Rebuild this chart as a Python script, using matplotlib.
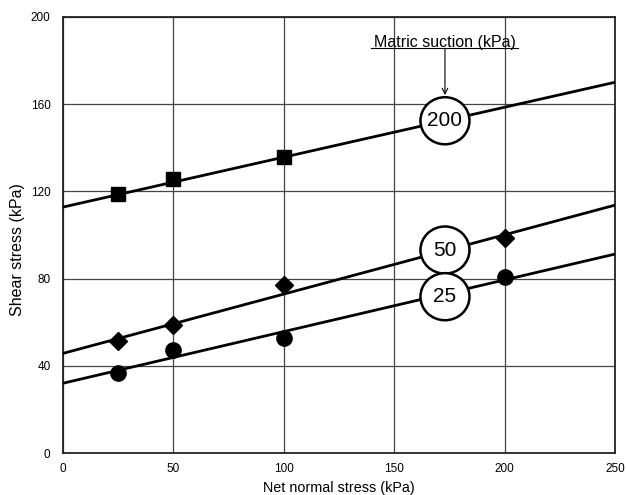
import matplotlib
matplotlib.use("Agg")
import matplotlib.pyplot as plt
import numpy as np
from matplotlib.patches import Ellipse

plt.rcParams['font.family'] = ['Liberation Sans', 'DejaVu Sans']

# Data
net_normal = [25, 50, 100, 200]
s200_x = [25, 50, 100]
s200_y = [118.8, 125.7, 135.8]
s50_y = [51.5, 58.7, 77.0, 98.6]
s25_y = [36.8, 47.2, 52.6, 80.6]

# fitted lines (intercept, slope)
fit200 = (112.8, 0.229)
fit50 = (45.7, 0.272)
fit25 = (32.0, 0.237)

label_x = 173
labels = ["200", "50", "25"]
label_y = [152.4, 93.1, 71.7]

xticks = [0, 50, 100, 150, 200, 250]
yticks = [0, 40, 80, 120, 160, 200]

fig = plt.figure(figsize=(6.26, 4.95), dpi=100)
ax = fig.add_axes([0.1006, 0.0848, 0.8818, 0.8809])
ax.set_xlim(0, 250)
ax.set_ylim(0, 200)
ax.set_xticks(xticks)
ax.set_yticks(yticks)
ax.tick_params(length=0, labelsize=8.5)
ax.tick_params(axis='y', pad=9)
ax.tick_params(axis='x', pad=7)
ax.grid(True, color='#444444', linewidth=0.9)
ax.set_axisbelow(True)
for s in ax.spines.values():
    s.set_linewidth(1.3)
    s.set_color('#222222')

xl = np.array([0, 250])
for (b, m) in (fit200, fit50, fit25):
    ax.plot(xl, b + m * xl, color='black', linewidth=2, zorder=3, clip_on=True)

ax.plot(s200_x, s200_y, 's', color='black', markersize=10, zorder=4, linestyle='none')
ax.plot(net_normal, s50_y, 'D', color='black', markersize=9, zorder=4, linestyle='none')
ax.plot(net_normal, s25_y, 'o', color='black', markersize=11, zorder=4, linestyle='none')

for lab, ly in zip(labels, label_y):
    e = Ellipse((label_x, ly), width=22.2, height=21.6, facecolor='white',
                edgecolor='black', linewidth=1.8, zorder=5)
    ax.add_patch(e)
    ax.text(label_x, ly, lab, ha='center', va='center', fontsize=15, zorder=6)

ax.text(label_x, 188.5, "Matric suction (kPa)", ha='center', va='center', fontsize=11.5)
ax.plot([139.5, 206], [185.6, 185.6], color='black', linewidth=0.8)
ax.annotate("", xy=(label_x, 164.2), xytext=(label_x, 185.6),
            arrowprops=dict(arrowstyle='->', color='black', lw=0.8, shrinkA=0, shrinkB=0))

ax.set_xlabel("Net normal stress (kPa)", fontsize=10.4)
ax.set_ylabel("Shear stress (kPa)", fontsize=11.5)
ax.xaxis.set_label_coords(0.5, -0.080)
ax.xaxis.label.set_va('center')
ax.yaxis.set_label_coords(-0.082, 0.466)
ax.yaxis.label.set_va('center')

fig.savefig("out.png", dpi=100)
